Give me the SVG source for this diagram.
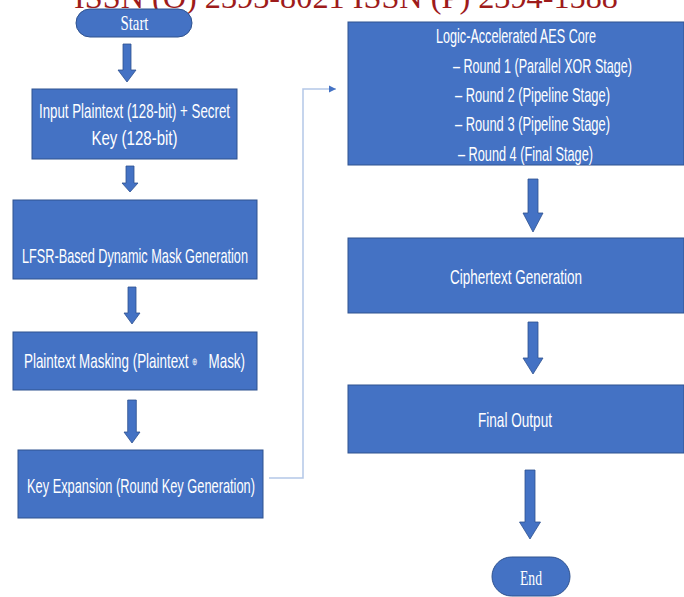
<svg xmlns="http://www.w3.org/2000/svg" width="684" height="597" viewBox="0 0 684 597">
<defs>
<style>
.box{fill:#4472C4;stroke:#2F528F;stroke-width:1}
.arr{fill:#4472C4;stroke:#2F528F;stroke-width:0.8}
.t{font-family:"Liberation Sans","Noto Sans",sans-serif;fill:#FFFFFF;font-size:21px;text-anchor:middle}
.tl{font-family:"Liberation Sans","Noto Sans",sans-serif;fill:#FFFFFF;font-size:21px}
.ts{font-family:"Liberation Serif","DejaVu Serif",serif;fill:#FFFFFF;font-size:22px;text-anchor:middle}
.hdr{font-family:"Liberation Serif","DejaVu Serif",serif;fill:#9E1B1B;font-size:31px}
.conn{fill:none;stroke:#B4C7E7;stroke-width:1.5}
</style>
<marker id="ah" markerWidth="8" markerHeight="8" refX="7" refY="4" orient="auto" markerUnits="userSpaceOnUse">
<path d="M0,0.5 L7,4 L0,7.5 Z" fill="#4472C4"/>
</marker>
</defs>
<rect width="684" height="597" fill="#FFFFFF"/>
<text class="hdr" x="74" y="8" textLength="544" lengthAdjust="spacingAndGlyphs">ISSN (O) 2393-8021 ISSN (P) 2394-1588</text>

<g id="connectors">
<path class="arr" d="M123,44 H131 V70 H136 L127,82 L118,70 H123 Z"/>
<path class="arr" d="M126,166 H134 V183 H138 L130,192 L122,183 H126 Z"/>
<path class="arr" d="M128,287 H136 V313 H140 L132,324 L124,313 H128 Z"/>
<path class="arr" d="M127.7,400 H136.3 V432 H140 L132,443 L124,432 H127.7 Z"/>
<path class="arr" d="M528,179 H538 V213 H543 L533,232 L523,213 H528 Z"/>
<path class="arr" d="M528,322 H538 V358 H543 L533,374 L523,358 H528 Z"/>
<path class="arr" d="M525,470 H535 V522 H540.5 L530,539 L519.5,522 H525 Z"/>
<polyline class="conn" points="269,478 303,478 303,89 336,89" marker-end="url(#ah)"/>
</g>

<g id="start">
<rect class="box" x="76" y="9" width="116" height="28" rx="14"/>
<text class="ts" x="134.5" y="30" textLength="28" lengthAdjust="spacingAndGlyphs">Start</text>
</g>

<g id="input">
<rect class="box" x="32" y="89" width="205" height="70"/>
<text class="t" x="134.5" y="118" textLength="191" lengthAdjust="spacingAndGlyphs">Input Plaintext (128-bit) + Secret</text>
<text class="t" x="134.5" y="145" textLength="86" lengthAdjust="spacingAndGlyphs">Key (128-bit)</text>
</g>

<g id="lfsr">
<rect class="box" x="13" y="200" width="244" height="79"/>
<text class="t" x="135" y="263" textLength="226" lengthAdjust="spacingAndGlyphs">LFSR-Based Dynamic Mask Generation</text>
</g>

<g id="masking">
<rect class="box" x="13" y="332" width="244" height="58"/>
<text class="t" x="134.5" y="368" textLength="221" lengthAdjust="spacingAndGlyphs">Plaintext Masking (Plaintext <tspan font-size="10" dy="-3">⊕</tspan><tspan dy="3">&#160;&#160;&#160;Mask)</tspan></text>
</g>

<g id="keyexp">
<rect class="box" x="18" y="450" width="245" height="68"/>
<text class="t" x="141" y="493" textLength="228" lengthAdjust="spacingAndGlyphs">Key Expansion (Round Key Generation)</text>
</g>

<g id="aes">
<rect class="box" x="348" y="22" width="336" height="143"/>
<text class="t" x="516" y="43" textLength="160" lengthAdjust="spacingAndGlyphs">Logic-Accelerated AES Core</text>
<text class="tl" x="453" y="73" textLength="179" lengthAdjust="spacingAndGlyphs">– Round 1 (Parallel XOR Stage)</text>
<text class="tl" x="455" y="102" textLength="155" lengthAdjust="spacingAndGlyphs">– Round 2 (Pipeline Stage)</text>
<text class="tl" x="455" y="131" textLength="155" lengthAdjust="spacingAndGlyphs">– Round 3 (Pipeline Stage)</text>
<text class="tl" x="458" y="161" textLength="135" lengthAdjust="spacingAndGlyphs">– Round 4 (Final Stage)</text>
</g>

<g id="cipher">
<rect class="box" x="348" y="238" width="336" height="75"/>
<text class="t" x="516" y="284" textLength="132" lengthAdjust="spacingAndGlyphs">Ciphertext Generation</text>
</g>

<g id="output">
<rect class="box" x="348" y="385" width="336" height="68"/>
<text class="t" x="515" y="427" textLength="74" lengthAdjust="spacingAndGlyphs">Final Output</text>
</g>

<g id="end">
<rect class="box" x="492" y="557" width="78" height="39" rx="19.5"/>
<text class="ts" x="531" y="585" textLength="22" lengthAdjust="spacingAndGlyphs">End</text>
</g>
</svg>
